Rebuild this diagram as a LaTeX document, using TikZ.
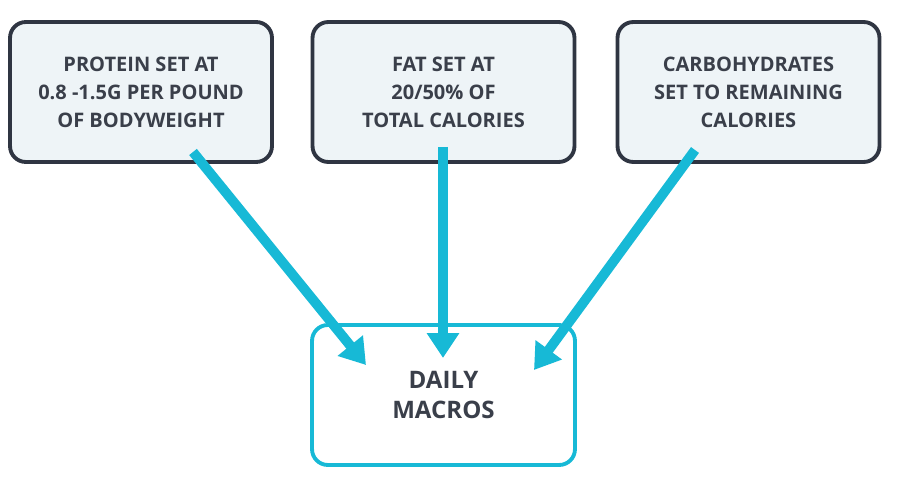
\documentclass[tikz,border=0pt]{standalone}
\usepackage{fontspec}
\setmainfont{Open Sans}
\usetikzlibrary{arrows.meta,positioning}
\definecolor{boxfill}{HTML}{EEF4F7}
\definecolor{boxline}{HTML}{2F3542}
\definecolor{macrocyan}{HTML}{17B9D6}
\definecolor{txt}{HTML}{3A3F4A}
\tikzset{
  topbox/.style={draw=boxline,fill=boxfill,line width=2.2pt,rounded corners=9pt,
    minimum width=5.24cm,minimum height=2.8cm,align=center,font=\fontsize{11.4}{16}\selectfont\bfseries,text=txt},
  macrobox/.style={draw=macrocyan,fill=white,line width=2.2pt,rounded corners=9pt,
    minimum width=5.26cm,minimum height=2.8cm,align=center,font=\fontsize{13.7}{17.5}\selectfont\bfseries,text=txt},
  feed/.style={macrocyan,line width=5.6pt,-{Triangle[length=0.5cm,width=0.62cm]}}
}
\begin{document}
\begin{tikzpicture}[x=0.02cm,y=-0.02cm]
\useasboundingbox (0,0) rectangle (900,493);

\node[topbox] (protein) at (141,92) {PROTEIN SET AT\\0.8 -1.5G PER POUND\\OF BODYWEIGHT};
\node[topbox] (fat) at (443.5,92) {FAT SET AT\\20/50\% OF\\TOTAL CALORIES};
\node[topbox] (carbs) at (748.5,92) {CARBOHYDRATES\\SET TO REMAINING\\CALORIES};
\node[macrobox] (macros) at (443.5,395) {DAILY\\MACROS};

% arrow ends
\coordinate (p1) at (193,152);
\coordinate (p2) at (366,365);
\coordinate (f1) at (443,147);
\coordinate (f2) at (443,358);
\coordinate (c1) at (695,150);
\coordinate (c2) at (534,370);

\draw[feed] (p1) -- (p2);
\draw[feed] (f1) -- (f2);
\draw[feed] (c1) -- (c2);
\end{tikzpicture}
\end{document}
